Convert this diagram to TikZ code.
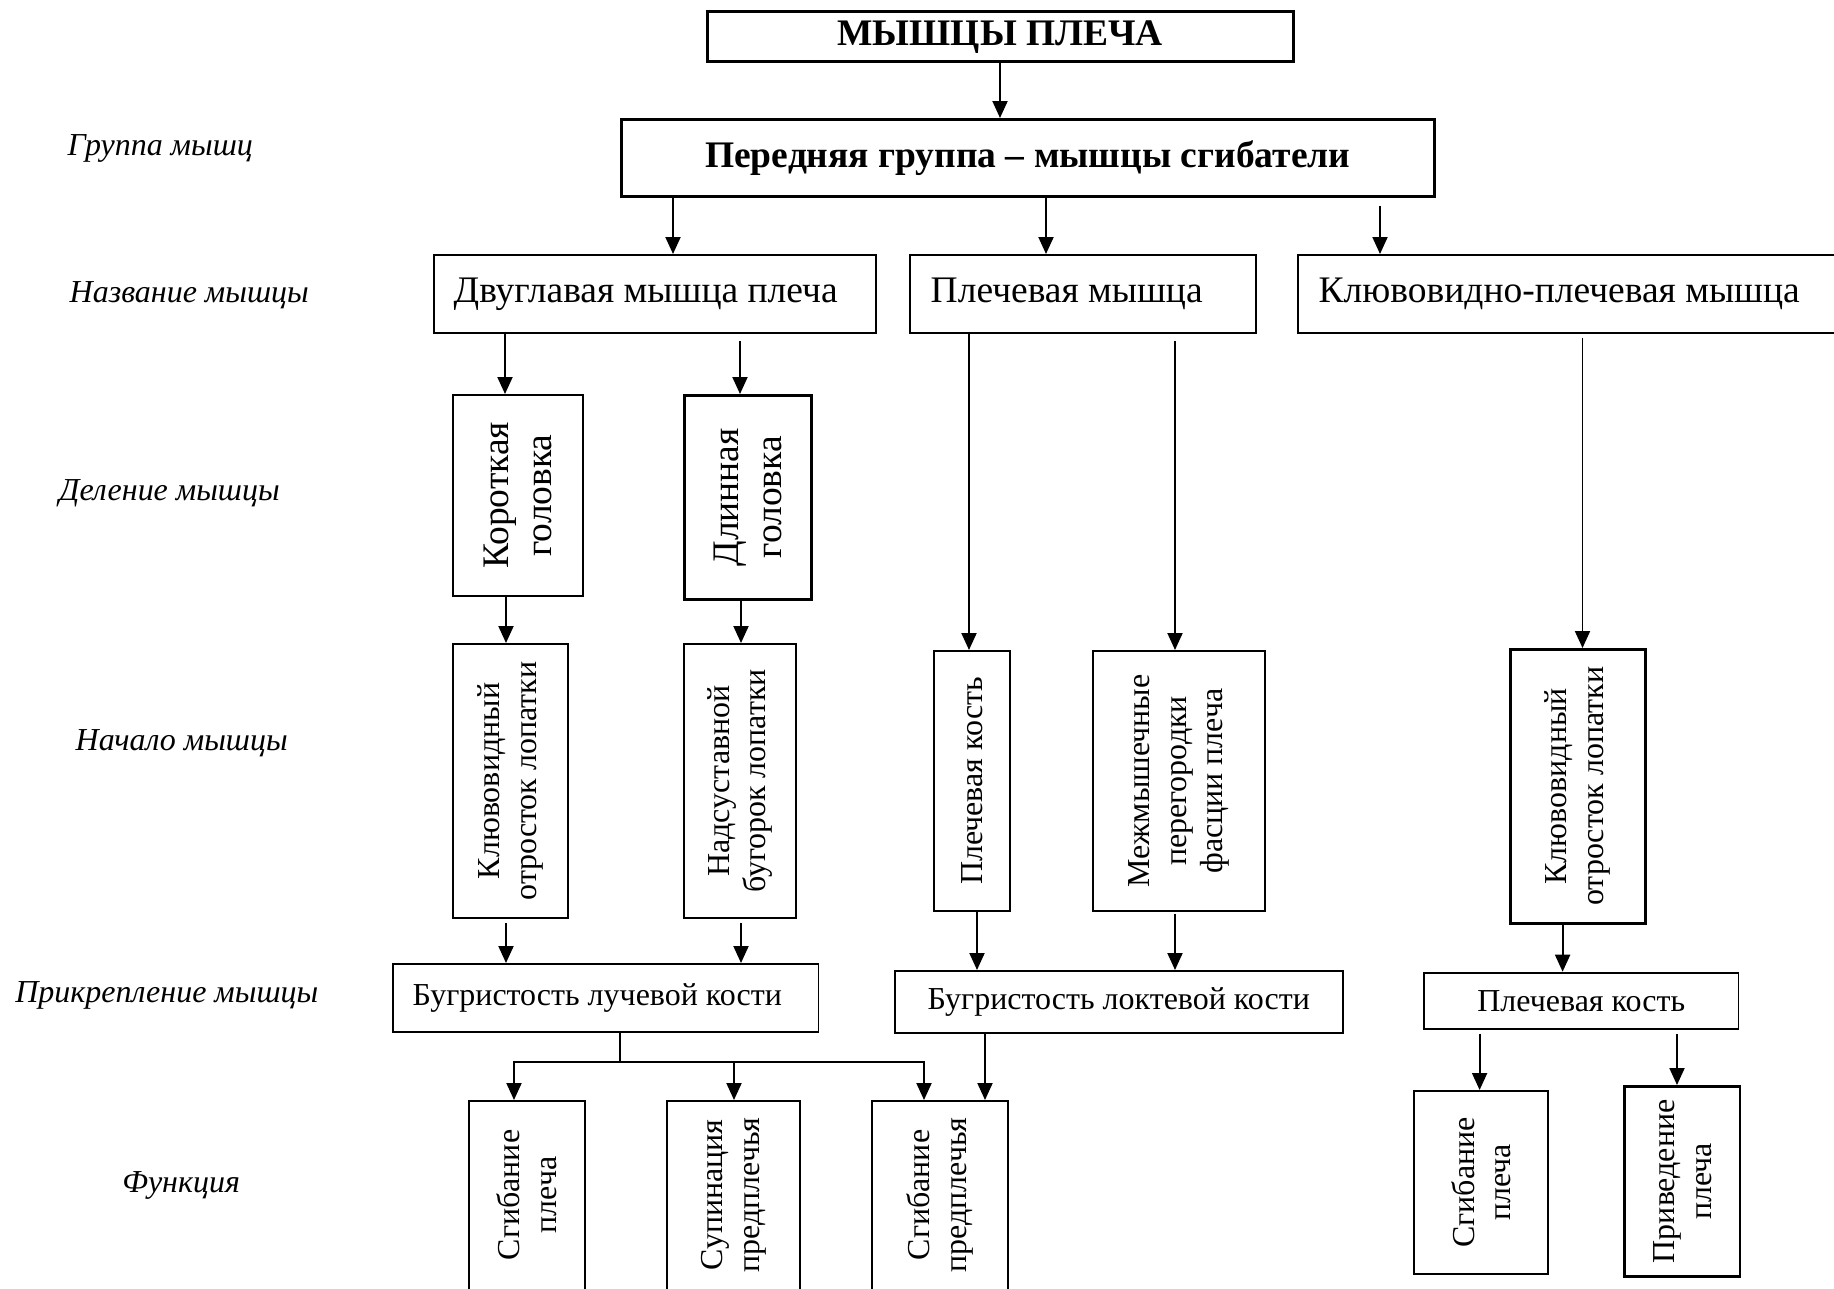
\documentclass[tikz,border=0pt]{standalone}
\usepackage{fontspec}
\setmainfont{Liberation Serif}
\usetikzlibrary{arrows.meta}

% font sizes (1 unit of the picture = 0.1 mm)
\newcommand\bigsz{\fontsize{10.67pt}{12.25pt}\selectfont}
\newcommand\midsz{\fontsize{9.1pt}{10.5pt}\selectfont}

\begin{document}
\begin{tikzpicture}[x=0.1mm,y=-0.1mm,
  box/.style={draw, line width=0.55pt, inner sep=0pt, anchor=north west},
  thickbox/.style={box, line width=0.72pt},
  txt/.style={inner sep=0pt, font=\midsz},
  bigtxt/.style={inner sep=0pt, font=\bigsz},
  vtxt/.style={txt, rotate=90, align=center},
  vbigtxt/.style={bigtxt, rotate=90, align=center},
  arr/.style={draw, line width=0.55pt, -{Triangle[length=1.7mm,width=1.5mm]}},
  ln/.style={draw, line width=0.55pt},
  side/.style={font=\midsz\itshape, anchor=base west, inner sep=0pt},
]
\useasboundingbox (0,0) rectangle (1834,1288);
\clip (0,0) rectangle (1834,1288);

% row captions
\node[side] (c1) at (67,155)    {Группа мышц};
\node[side] (c2) at (69,302)    {Название мышцы};
\node[side] (c3) at (58.5,500)  {Деление мышцы};
\node[side] (c4) at (75,750)    {Начало мышцы};
\node[side] (c5) at (14.6,1002) {Прикрепление мышцы};
\node[side] (c6) at (121.6,1192){Функция};

% title and group
\node[thickbox, minimum width=58.6mm, minimum height=5mm] (top) at (706,10) {};
\node[bigtxt, font=\bigsz\bfseries] (topT) at ([yshift=-0.1mm]top.center) {МЫШЦЫ ПЛЕЧА};
\node[thickbox, minimum width=81.3mm, minimum height=7.7mm] (gr) at (620,118) {};
\node[bigtxt, font=\bigsz\bfseries] (grT) at (gr.center) {Передняя группа – мышцы сгибатели};

% muscles
\node[box, minimum width=44.2mm, minimum height=7.8mm] (dvu) at (433,254) {};
\node[bigtxt, anchor=west] (dvuT) at ([xshift=2mm]dvu.west) {Двуглавая мышца плеча};
\node[box, minimum width=34.6mm, minimum height=7.8mm] (plm) at (909,254) {};
\node[bigtxt, anchor=west] (plmT) at ([xshift=2.1mm]plm.west) {Плечевая мышца};
\node[box, minimum width=54.8mm, minimum height=7.8mm] (klm) at (1297,254) {};
\node[bigtxt, anchor=west] (klmT) at ([xshift=2.1mm]klm.west) {Клювовидно-плечевая мышца};

% heads of the biceps
\node[box, minimum width=13mm, minimum height=20.1mm] (kor) at (452,394) {};
\node[vbigtxt] (korT) at (kor.center) {Короткая\\головка};
\node[thickbox, minimum width=12.7mm, minimum height=20.4mm] (dln) at (683,394) {};
\node[vbigtxt] (dlnT) at (dln.center) {Длинная\\головка};

% origins
\node[box, minimum width=11.5mm, minimum height=27.4mm] (kl1) at (452,643) {};
\node[vtxt] (kl1T) at (kl1.center) {Клювовидный\\отросток лопатки};
\node[box, minimum width=11.2mm, minimum height=27.4mm] (nad) at (683,643) {};
\node[vtxt] (nadT) at (nad.center) {Надсуставной\\бугорок лопатки};
\node[box, minimum width=7.6mm, minimum height=26mm] (pk) at (933,650) {};
\node[vtxt] (pkT) at (pk.center) {Плечевая кость};
\node[box, minimum width=17.2mm, minimum height=26mm] (mm) at (1092,650) {};
\node[vtxt] (mmT) at (mm.center) {Межмышечные\\перегородки\\фасции плеча};
\node[thickbox, minimum width=13.5mm, minimum height=27.4mm] (kl2) at (1509,648) {};
\node[vtxt] (kl2T) at (kl2.center) {Клювовидный\\отросток лопатки};

% insertions
\node[box, minimum width=42.55mm, minimum height=6.8mm] (buL) at (392,963) {};
\node[txt, anchor=west] (buLT) at ([xshift=2mm]buL.west) {Бугристость лучевой кости};
\node[box, minimum width=44.84mm, minimum height=6.17mm] (buU) at (893.6,970) {};
\node[txt] (buUT) at (buU.center) {Бугристость локтевой кости};
\node[box, minimum width=31.45mm, minimum height=5.6mm] (pk2) at (1423,971.7) {};
\node[txt] (pk2T) at (pk2.center) {Плечевая кость};

% functions
\node[box, minimum width=11.6mm, minimum height=20mm] (f1) at (468,1100) {};
\node[vtxt] (f1T) at ([yshift=0.6mm]f1.center) {Сгибание\\плеча};
\node[box, minimum width=13.3mm, minimum height=20mm] (f2) at (666,1100) {};
\node[vtxt] (f2T) at ([yshift=0.6mm]f2.center) {Супинация\\предплечья};
\node[box, minimum width=13.6mm, minimum height=20mm] (f3) at (871,1100) {};
\node[vtxt] (f3T) at ([yshift=0.6mm]f3.center) {Сгибание\\предплечья};
\node[box, minimum width=13.44mm, minimum height=18.27mm] (f4) at (1413,1090) {};
\node[vtxt] (f4T) at (f4.center) {Сгибание\\плеча};
\node[thickbox, minimum width=11.52mm, minimum height=19mm] (f5) at (1623.4,1085) {};
\node[vtxt] (f5T) at (f5.center) {Приведение\\плеча};

% connectors
\draw[arr] (top.south -| 1000,0) -- (gr.north -| 1000,0);
\draw[arr] (gr.south -| 673,0) -- (dvu.north -| 673,0);
\draw[arr] (gr.south -| 1046,0) -- (plm.north -| 1046,0);
\draw[arr, shorten <=0.8mm] (gr.south -| 1380,0) -- (klm.north -| 1380,0);

\draw[arr] (dvu.south -| 505,0) -- (kor.north -| 505,0);
\draw[arr, shorten <=0.7mm] (dvu.south -| 740,0) -- (dln.north -| 740,0);
\draw[arr] (kor.south -| 506,0) -- (kl1.north -| 506,0);
\draw[arr] (dln.south -| 741,0) -- (nad.north -| 741,0);
\draw[arr, shorten <=0.4mm] (kl1.south -| 506,0) -- (buL.north -| 506,0);
\draw[arr, shorten <=0.4mm] (nad.south -| 741,0) -- (buL.north -| 741,0);

\coordinate (br) at (620,1062);
\draw[ln] (buL.south -| br) -- (br);
\draw[arr] (br) -| (f1.north -| 514,0);
\draw[arr] (br -| 734,0) -- (f2.north -| 734,0);
\draw[arr] (br) -| (f3.north -| 924,0);

\draw[arr] (plm.south -| 969,0) -- (pk.north -| 969,0);
\draw[arr, shorten <=0.7mm] (plm.south -| 1175,0) -- (mm.north -| 1175,0);
\draw[arr] (pk.south -| 977,0) -- (buU.north -| 977,0);
\draw[arr, shorten <=0.2mm] (mm.south -| 1175,0) -- (buU.north -| 1175,0);
\draw[arr] (buU.south -| 985,0) -- (f3.north -| 985,0);

\draw[arr, shorten <=0.4mm] (klm.south -| 1582.5,0) -- (kl2.north -| 1582.5,0);
\draw[arr] (kl2.south -| 1562.6,0) -- (pk2.north -| 1562.6,0);
\draw[arr, shorten <=0.4mm] (pk2.south -| 1479.6,0) -- (f4.north -| 1479.6,0);
\draw[arr, shorten <=0.4mm] (pk2.south -| 1677,0) -- (f5.north -| 1677,0);
\end{tikzpicture}
\end{document}
